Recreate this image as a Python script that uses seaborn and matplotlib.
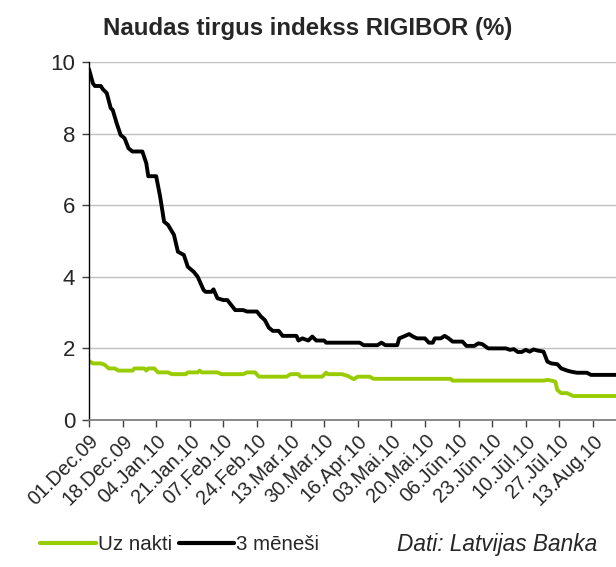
import matplotlib
matplotlib.use("Agg")
import matplotlib.pyplot as plt
import seaborn as sns
import pandas as pd
from matplotlib.lines import Line2D

start = "2009-12-01"

# 3-month RIGIBOR (day offset from 01.Dec.09, value %)
m3_days = [0, 2, 3, 6, 7, 9, 11, 12, 14, 16, 18, 20, 22, 27, 29, 30, 34, 36, 38, 40,
           43, 45, 48, 50, 53, 55, 58, 59, 62, 63, 65, 68, 70, 72, 74, 78, 80, 85, 87, 89,
           91, 93, 96, 98, 105, 106, 108, 111, 113, 115, 119, 120, 137, 139, 146, 148, 150, 156, 157, 160,
           162, 164, 166, 170, 172, 174, 175, 178, 180, 182, 184, 189, 191, 195, 197, 199, 202, 211, 213, 215,
           217, 219, 221, 223, 225, 227, 230, 232, 234, 237, 239, 242, 244, 247, 252, 254, 267]
m3_vals = [9.80, 9.40, 9.33, 9.33, 9.24, 9.13, 8.71, 8.66, 8.29, 7.96, 7.87, 7.59, 7.50, 7.50, 7.17, 6.81, 6.81, 6.24, 5.54, 5.45,
           5.17, 4.70, 4.61, 4.28, 4.14, 4.00, 3.63, 3.58, 3.58, 3.65, 3.40, 3.35, 3.35, 3.21, 3.07, 3.07, 3.03, 3.03, 2.89, 2.79,
           2.58, 2.49, 2.49, 2.35, 2.35, 2.22, 2.28, 2.22, 2.33, 2.22, 2.22, 2.16, 2.16, 2.09, 2.09, 2.16, 2.09, 2.09, 2.28, 2.35,
           2.40, 2.33, 2.28, 2.28, 2.16, 2.16, 2.28, 2.28, 2.35, 2.28, 2.19, 2.19, 2.07, 2.07, 2.14, 2.12, 2.00, 2.00, 1.96, 1.98,
           1.90, 1.90, 1.96, 1.91, 1.97, 1.94, 1.91, 1.63, 1.58, 1.56, 1.44, 1.38, 1.35, 1.32, 1.32, 1.26, 1.26]

# Overnight RIGIBOR
on_days = [0, 2, 6, 8, 10, 13, 15, 22, 23, 28, 29, 30, 33, 35, 40, 42, 49, 50, 55, 56,
           57, 65, 67, 78, 80, 84, 86, 100, 102, 106, 107, 118, 120, 121, 128, 131, 134, 136, 142, 144,
           183, 184, 230, 232, 234, 236, 237, 239, 242, 245, 267]
on_vals = [1.65, 1.58, 1.58, 1.54, 1.44, 1.44, 1.38, 1.38, 1.44, 1.44, 1.38, 1.44, 1.44, 1.33, 1.33, 1.28, 1.28, 1.33, 1.33, 1.38,
           1.33, 1.33, 1.28, 1.28, 1.33, 1.33, 1.21, 1.21, 1.28, 1.28, 1.21, 1.21, 1.32, 1.28, 1.28, 1.23, 1.14, 1.21, 1.21, 1.15,
           1.15, 1.10, 1.10, 1.12, 1.10, 1.07, 0.84, 0.75, 0.75, 0.67, 0.67]

tick_labels = ["01.Dec.09", "18.Dec.09", "04.Jan.10", "21.Jan.10", "07.Feb.10", "24.Feb.10",
               "13.Mar.10", "30.Mar.10", "16.Apr.10", "03.Mai.10", "20.Mai.10", "06.Jūn.10",
               "23.Jūn.10", "10.Jūl.10", "27.Jūl.10", "13.Aug.10"]

title = "Naudas tirgus indekss RIGIBOR (%)"
series_names = ["Uz nakti", "3 mēneši"]
source = "Dati: Latvijas Banka"

sns.set_theme(style="white")
plt.rcParams["font.family"] = ["Liberation Sans", "DejaVu Sans"]

t0 = pd.Timestamp(start)
df = pd.concat([
    pd.DataFrame({"date": t0 + pd.to_timedelta(on_days, unit="D"), "val": on_vals, "series": series_names[0]}),
    pd.DataFrame({"date": t0 + pd.to_timedelta(m3_days, unit="D"), "val": m3_vals, "series": series_names[1]}),
])

green = "#99CC00"
fig = plt.figure(figsize=(6.16, 5.67), dpi=100)
ax = fig.add_axes([89/616, 1 - 420/567, 1 - 89/616, (420 - 62)/567])

sns.lineplot(data=df, x="date", y="val", hue="series",
             palette={series_names[0]: green, series_names[1]: "black"},
             linewidth=2.8, ax=ax, legend=False)

ax.set_ylim(0, 10)
ax.set_yticks([0, 2, 4, 6, 8, 10])
ax.set_xlim(t0, t0 + pd.Timedelta(days=266.7))
ticks = [t0 + pd.Timedelta(days=17 * i) for i in range(len(tick_labels))]
ax.set_xticks(ticks)
ax.set_xticklabels(tick_labels, rotation=45, ha="right", rotation_mode="anchor", fontsize=14.3)
ax.tick_params(axis="y", labelsize=16, length=5, width=1, color="#404040", direction="out", left=True, pad=5)
ax.tick_params(axis="x", length=5, width=1, color="#404040", direction="out", bottom=True, pad=3)
ax.set_xlabel("")
ax.set_ylabel("")
ax.grid(axis="y", color="#c0c0c0", linewidth=1)
ax.set_axisbelow(True)
for s in ["top", "right"]:
    ax.spines[s].set_visible(False)
ax.spines["left"].set_color("black")
ax.spines["left"].set_linewidth(1)
ax.spines["bottom"].set_color("#808080")
ax.spines["bottom"].set_linewidth(1.3)

fig.text(0.5, 1 - 28/567, title, ha="center", va="center", fontsize=17.3, fontweight="bold")

handles = [Line2D([], [], color=green, linewidth=3), Line2D([], [], color="black", linewidth=3)]
fig.legend(handles, series_names, loc="center left", bbox_to_anchor=(40/616, 1 - 545/567),
           ncol=2, frameon=False, fontsize=14.8, handlelength=2.7, handletextpad=0.1, columnspacing=0.35,
           borderaxespad=0, borderpad=0)
fig.text(397/616, 1 - 545/567, source, ha="left", va="center", fontsize=16.3, style="italic")

fig.savefig("out.png", dpi=100)
